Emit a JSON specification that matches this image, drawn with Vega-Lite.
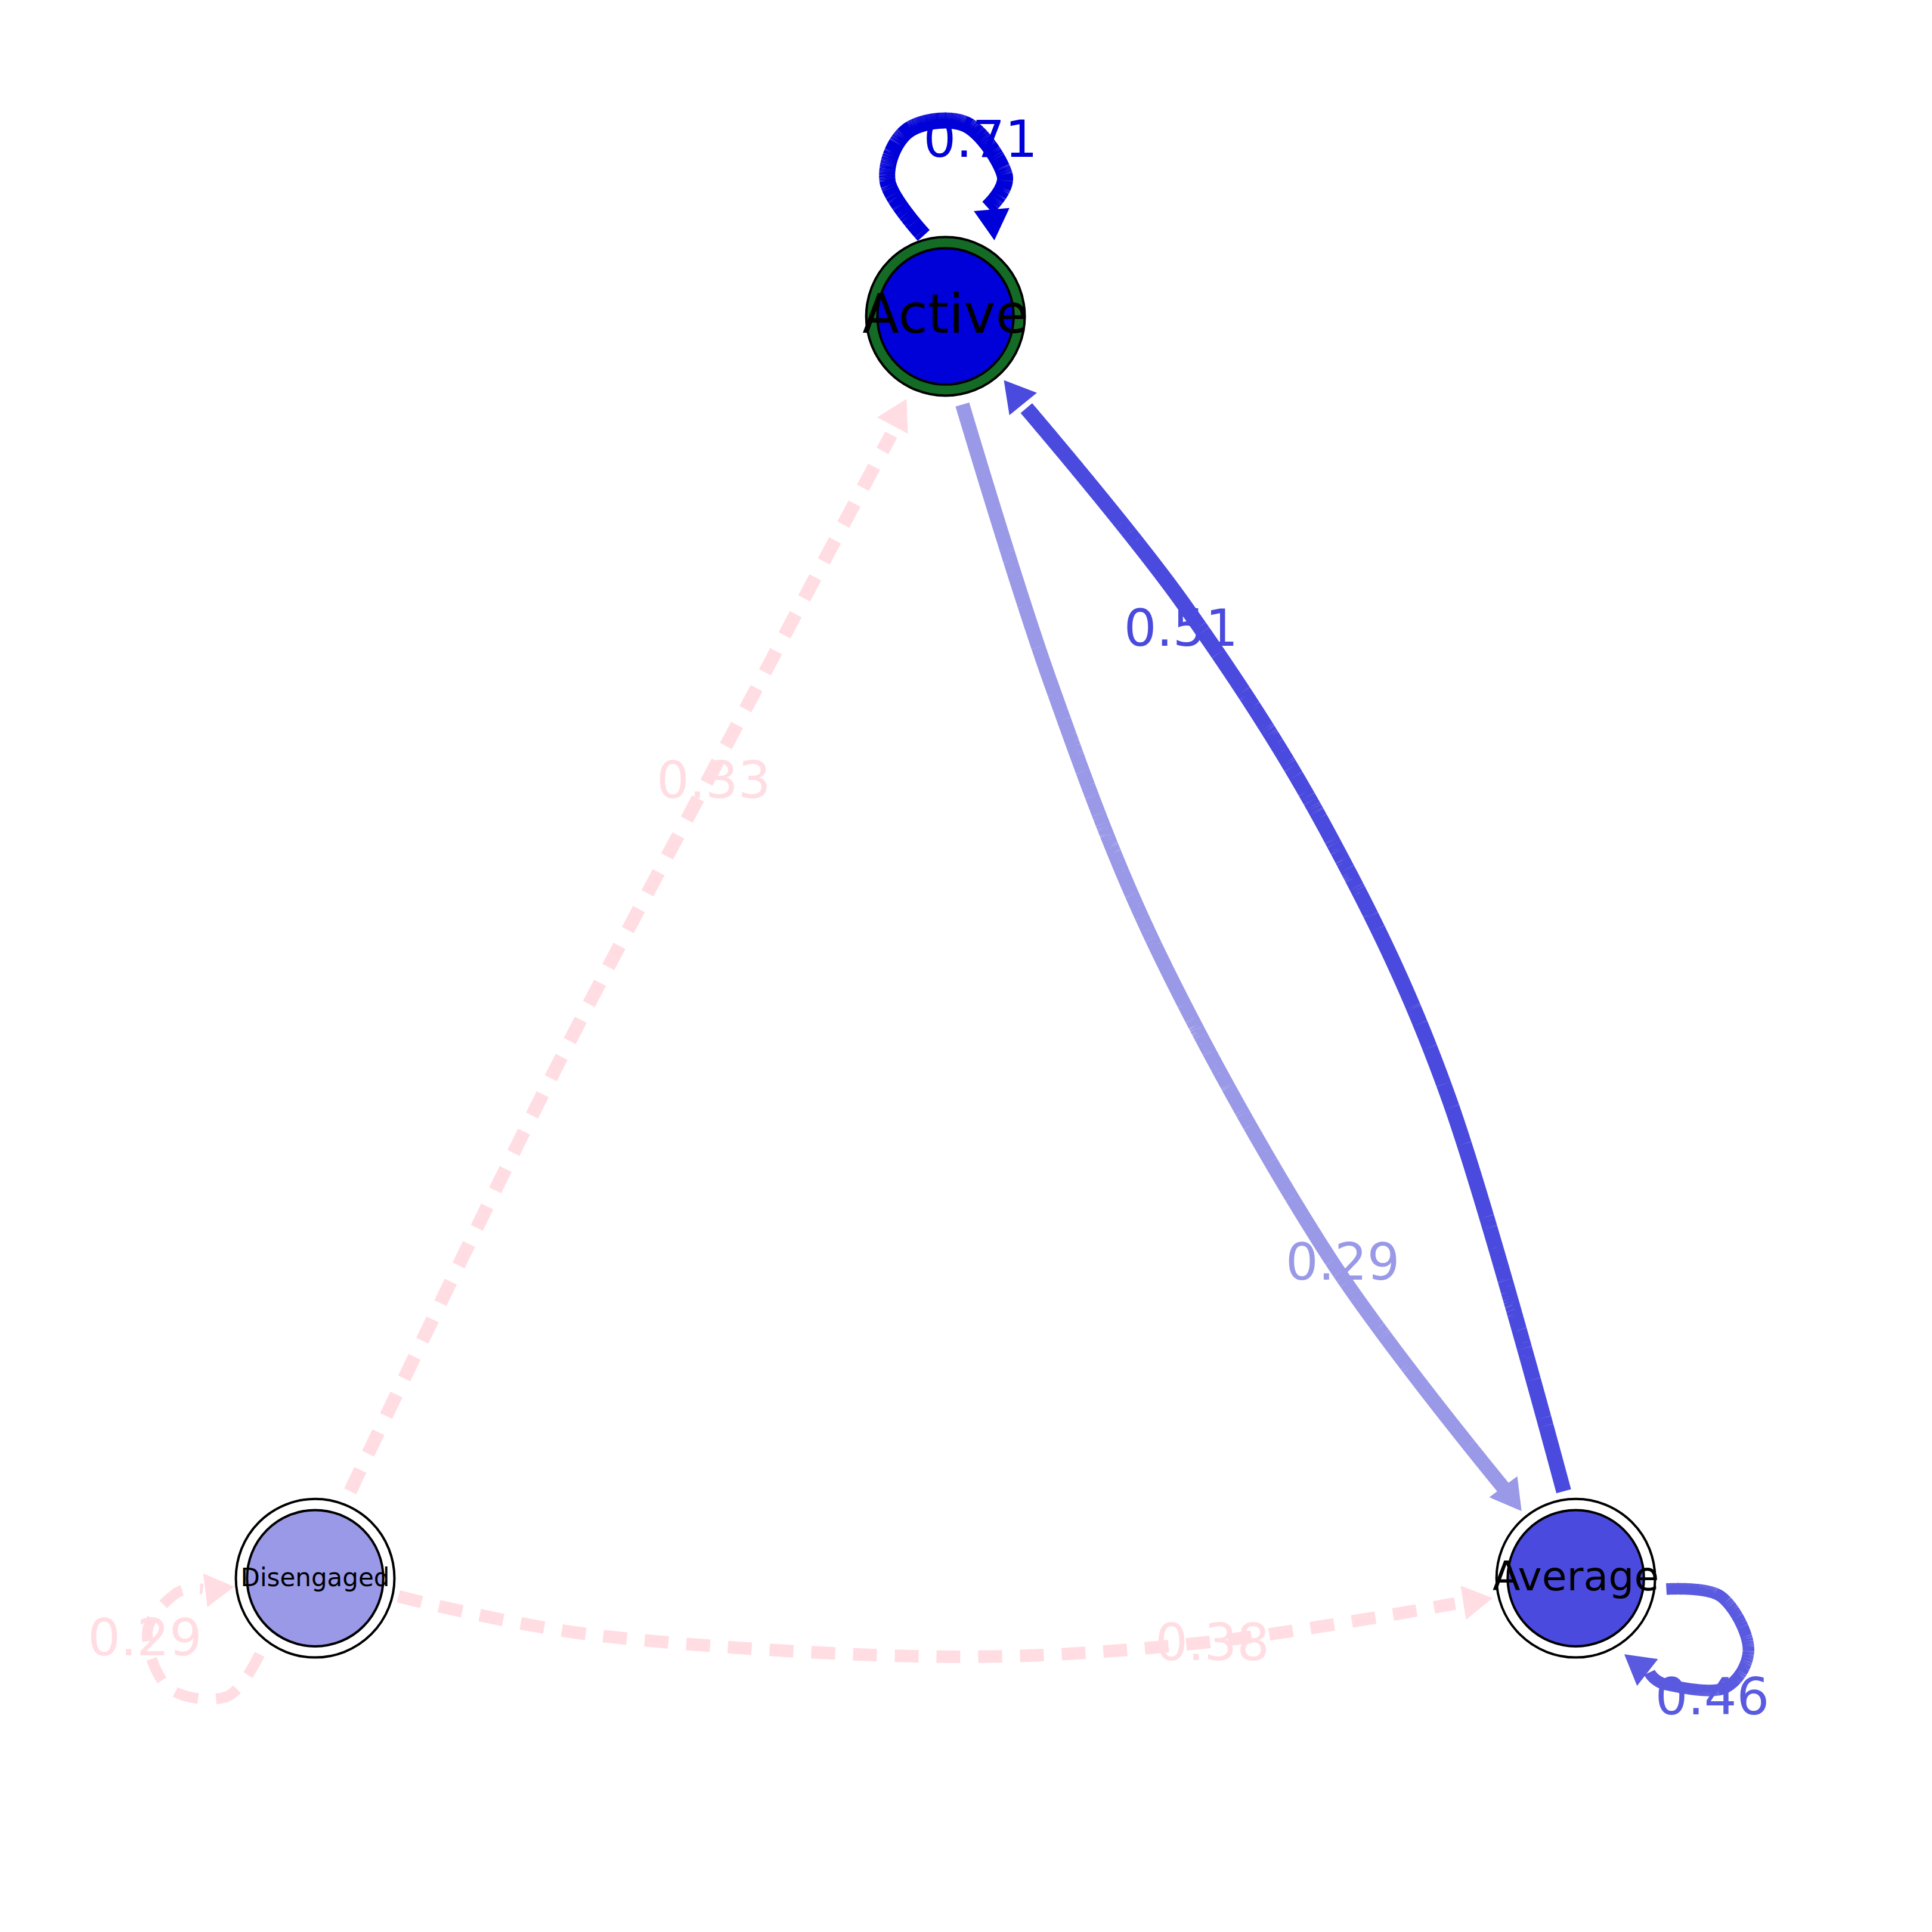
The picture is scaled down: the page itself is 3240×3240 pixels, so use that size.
{
"$schema":"https://vega.github.io/schema/vega-lite/v6.json",
"width":3240,"height":3240,"autosize":{"type":"fit","contains":"padding"},"padding":0,
"config":{"view":{"stroke":null},"axis":{"disable":true}},
"datasets":{
"edges":[
{"edge":"A_Av","i":0,"x":797,"y":335},{"edge":"A_Av","i":1,"x":870,"y":565},{"edge":"A_Av","i":2,"x":960,"y":790},{"edge":"A_Av","i":3,"x":1100,"y":1040},{"edge":"A_Av","i":4,"x":1245,"y":1232},
{"edge":"Av_A","i":0,"x":1295,"y":1235},{"edge":"Av_A","i":1,"x":1200,"y":910},{"edge":"Av_A","i":2,"x":1100,"y":690},{"edge":"Av_A","i":3,"x":980,"y":500},{"edge":"Av_A","i":4,"x":850,"y":338},
{"edge":"D_A","i":0,"x":290,"y":1235},{"edge":"D_A","i":1,"x":450,"y":905},{"edge":"D_A","i":2,"x":600,"y":620},{"edge":"D_A","i":3,"x":738,"y":360},
{"edge":"D_Av","i":0,"x":330,"y":1322},{"edge":"D_Av","i":1,"x":500,"y":1355},{"edge":"D_Av","i":2,"x":780,"y":1372},{"edge":"D_Av","i":3,"x":1000,"y":1360},{"edge":"D_Av","i":4,"x":1205,"y":1328},
{"edge":"A_A","i":0,"x":765,"y":195},{"edge":"A_A","i":1,"x":735,"y":150},{"edge":"A_A","i":2,"x":752,"y":108},{"edge":"A_A","i":3,"x":800,"y":103},{"edge":"A_A","i":4,"x":832,"y":145},{"edge":"A_A","i":5,"x":818,"y":172},
{"edge":"Av_Av","i":0,"x":1380,"y":1316},{"edge":"Av_Av","i":1,"x":1425,"y":1322},{"edge":"Av_Av","i":2,"x":1448,"y":1365},{"edge":"Av_Av","i":3,"x":1428,"y":1398},{"edge":"Av_Av","i":4,"x":1380,"y":1395},{"edge":"Av_Av","i":5,"x":1366,"y":1385},
{"edge":"D_D","i":0,"x":215,"y":1370},{"edge":"D_D","i":1,"x":188,"y":1405},{"edge":"D_D","i":2,"x":140,"y":1398},{"edge":"D_D","i":3,"x":122,"y":1352},{"edge":"D_D","i":4,"x":145,"y":1320},{"edge":"D_D","i":5,"x":168,"y":1316}
],
"arrows":[
{"edge":"A_Av","x":1250,"y":1238,"heading":143},
{"edge":"Av_A","x":842,"y":328,"heading":321},
{"edge":"D_A","x":743,"y":345,"heading":28},
{"edge":"D_Av","x":1220,"y":1326,"heading":81},
{"edge":"A_A","x":822,"y":182,"heading":175},
{"edge":"Av_Av","x":1358,"y":1380,"heading":308},
{"edge":"D_D","x":178,"y":1316,"heading":83}
],
"labels":[
{"edge":"A_A","x":812,"y":117,"t":"0.71"},
{"edge":"Av_A","x":978,"y":522,"t":"0.51"},
{"edge":"A_Av","x":1112,"y":1047,"t":"0.29"},
{"edge":"D_A","x":591,"y":648,"t":"0.33"},
{"edge":"D_Av","x":1004,"y":1362,"t":"0.38"},
{"edge":"Av_Av","x":1418,"y":1407,"t":"0.46"},
{"edge":"D_D","x":120,"y":1358,"t":"0.29"}
],
"nodes":[
{"node":"Active","x":783,"y":262},
{"node":"Average","x":1305,"y":1307},
{"node":"Disengaged","x":261,"y":1307}
]
},
"layer":[
{"data":{"name":"edges"},"mark":{"type":"line","interpolate":"cardinal","strokeCap":"butt"},
"encoding":{"x":{"field":"x","type":"quantitative","scale":{"domain":[0,1560]}},"y":{"field":"y","type":"quantitative","scale":{"domain":[0,1560],"reverse":true}},"detail":{"field":"edge"},"order":{"field":"i"},
"color":{"field":"edge","type":"nominal","legend":null,"scale":{"domain":["A_A","Av_A","A_Av","D_A","D_Av","Av_Av","D_D"],"range":["#0000d8","#4a4adf","#9999e8","#ffdde3","#ffdde3","#5a5ae0","#ffdde3"]}},
"strokeWidth":{"field":"edge","type":"nominal","legend":null,"scale":{"domain":["A_A","Av_A","A_Av","D_A","D_Av","Av_Av","D_D"],"range":[27,18,10,12,12,18,12]}},
"strokeDash":{"field":"edge","type":"nominal","legend":null,"scale":{"domain":["A_A","Av_A","A_Av","D_A","D_Av","Av_Av","D_D"],"range":[[1,0],[1,0],[1,0],[40,30],[40,30],[1,0],[40,30]]}}}},
{"data":{"name":"arrows"},"mark":{"type":"point","shape":"triangle","filled":true,"opacity":1},
"encoding":{"x":{"field":"x","type":"quantitative"},"y":{"field":"y","type":"quantitative"},"angle":{"field":"heading","type":"quantitative","scale":null},
"color":{"field":"edge","type":"nominal","legend":null},
"size":{"field":"edge","type":"nominal","legend":null,"scale":{"domain":["A_A","Av_A","A_Av","D_A","D_Av","Av_Av","D_D"],"range":[3600,3200,2600,3000,3000,3200,3000]}}}},
{"data":{"name":"nodes"},"mark":{"type":"point","filled":true,"stroke":"black","strokeWidth":4,"opacity":1,"size":70700},
"encoding":{"x":{"field":"x","type":"quantitative"},"y":{"field":"y","type":"quantitative"},
"fill":{"field":"node","type":"nominal","legend":null,"scale":{"domain":["Active","Average","Disengaged"],"range":["#146b25","#ffffff","#ffffff"]}}}},
{"data":{"name":"nodes"},"mark":{"type":"point","filled":true,"stroke":"black","strokeWidth":4,"opacity":1,"size":52200},
"encoding":{"x":{"field":"x","type":"quantitative"},"y":{"field":"y","type":"quantitative"},
"color":{"field":"node","type":"nominal","legend":null,"scale":{"domain":["Active","Average","Disengaged"],"range":["#1b7d2e","#3aaac8","#f8c130"]}}}},
{"data":{"name":"nodes"},"transform":[{"filter":"datum.node=='Active'"}],"mark":{"type":"text","font":"DejaVu Sans","color":"black","fontSize":90},
"encoding":{"x":{"field":"x","type":"quantitative"},"y":{"field":"y","type":"quantitative"},"text":{"field":"node"}}},
{"data":{"name":"nodes"},"transform":[{"filter":"datum.node=='Average'"}],"mark":{"type":"text","font":"DejaVu Sans","color":"black","fontSize":68},
"encoding":{"x":{"field":"x","type":"quantitative"},"y":{"field":"y","type":"quantitative"},"text":{"field":"node"}}},
{"data":{"name":"nodes"},"transform":[{"filter":"datum.node=='Disengaged'"}],"mark":{"type":"text","font":"DejaVu Sans","color":"black","fontSize":42},
"encoding":{"x":{"field":"x","type":"quantitative"},"y":{"field":"y","type":"quantitative"},"text":{"field":"node"}}},
{"data":{"name":"labels"},"mark":{"type":"text","font":"DejaVu Sans","fontSize":86},
"encoding":{"x":{"field":"x","type":"quantitative"},"y":{"field":"y","type":"quantitative"},"text":{"field":"t"},"color":{"field":"edge","type":"nominal","legend":null}}}
]
}
